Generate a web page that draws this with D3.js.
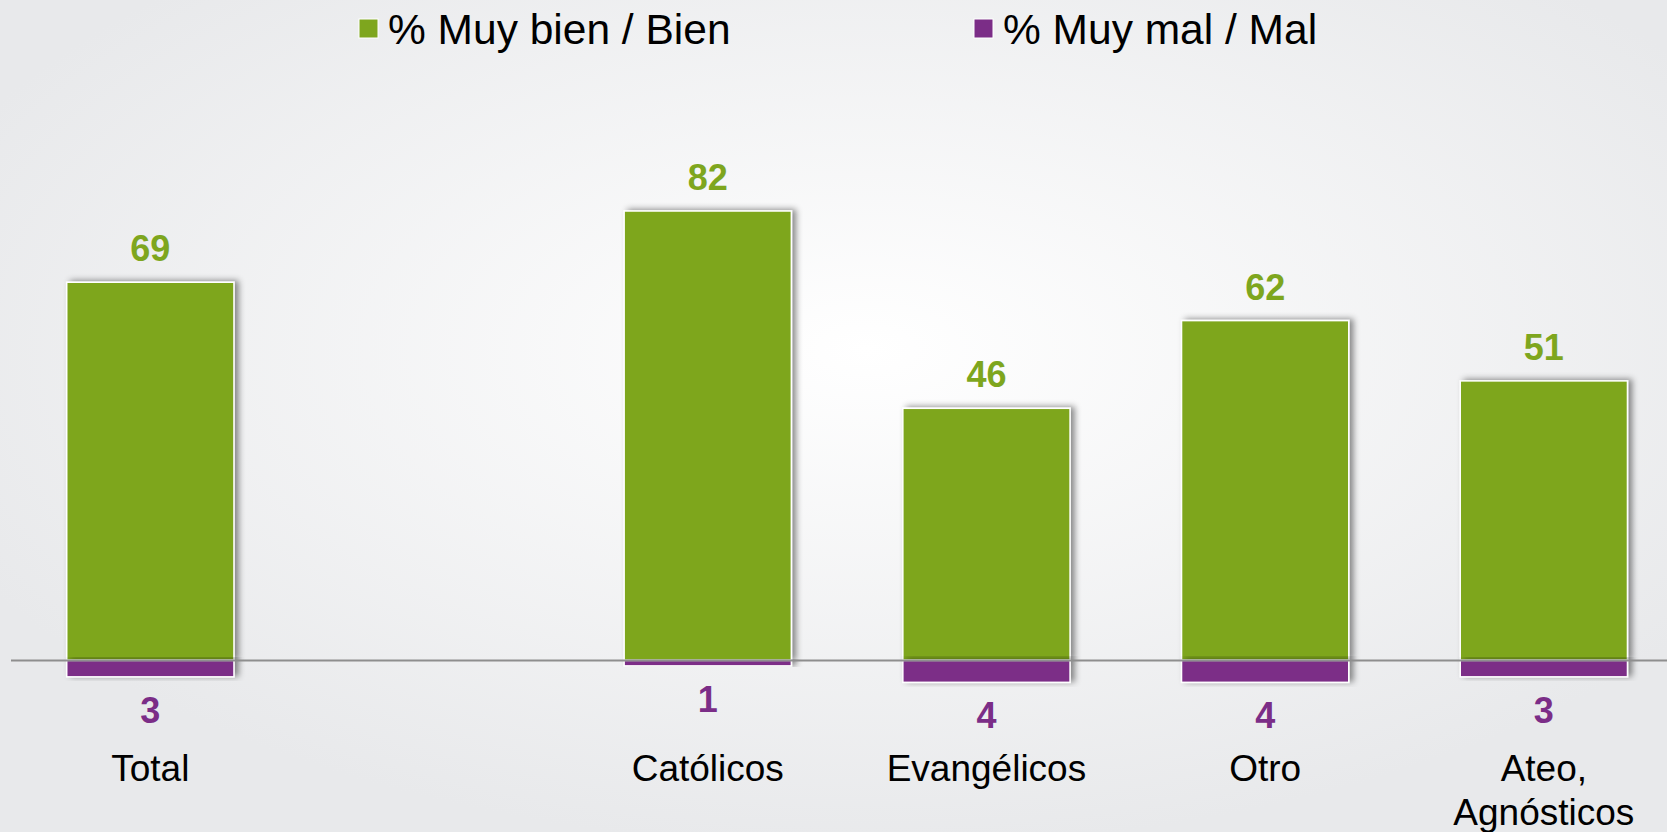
<!DOCTYPE html>
<html>
<head>
<meta charset="utf-8">
<script src="https://cdn.jsdelivr.net/npm/d3@7"></script>
<style>
  html, body { margin: 0; padding: 0; overflow: hidden; }
  body { width: 1667px; height: 832px; }
  svg { display: block; font-family: Arial, "Liberation Sans", sans-serif; }
</style>
</head>
<body>
<svg class="chart"></svg>
<script>
// categories ("" is the empty slot between Total and Católicos)
const categories = ["Total", "", "Católicos", "Evangélicos", "Otro", "Ateo, Agnósticos"];
const catLines = [["Total"], [], ["Católicos"], ["Evangélicos"], ["Otro"], ["Ateo,", "Agnósticos"]];
const good = [69, null, 82, 46, 62, 51];   // % Muy bien / Bien
const bad = [3, null, 1, 4, 4, 3];         // % Muy mal / Mal
const seriesNames = ["% Muy bien / Bien", "% Muy mal / Mal"];
const colors = ["#7ea61e", "#7b2d87"];

const W = 1667, H = 832;
const svg = d3.select(".chart").attr("width", W).attr("height", H);

// background gradient
const defs = svg.append("defs");
const bg = defs.append("radialGradient").attr("id", "bg")
  .attr("cx", "52%").attr("cy", "42%").attr("r", "60%");
bg.append("stop").attr("offset", "0%").attr("stop-color", "#ffffff");
bg.append("stop").attr("offset", "100%").attr("stop-color", "#e8e9eb");
svg.append("rect").attr("width", W).attr("height", H).attr("fill", "url(#bg)");

const shadow = defs.append("filter").attr("id", "shadow")
  .attr("x", "-20%").attr("y", "-20%").attr("width", "140%").attr("height", "140%");
shadow.append("feDropShadow").attr("dx", 4).attr("dy", -1)
  .attr("stdDeviation", 3).attr("flood-color", "#000").attr("flood-opacity", 0.45);

const rows = categories.map((c, i) => ({ i: i, cat: c, good: good[i], bad: bad[i] }))
  .filter(d => d.good != null);

const x = d3.scaleBand()
  .domain(d3.range(categories.length))
  .range([11, 11 + 6 * 278.7])
  .paddingInner(0.4)
  .paddingOuter(0.2);

const y = d3.scaleLinear().domain([0, 82]).range([660.4, 211]);

const g = svg.append("g");

// green bars
g.selectAll(".good").data(rows).enter().append("rect")
  .attr("class", "good")
  .attr("x", d => x(d.i))
  .attr("width", x.bandwidth())
  .attr("y", d => y(d.good))
  .attr("height", d => y(0) - y(d.good))
  .attr("fill", colors[0])
  .attr("stroke", "#fff").attr("stroke-width", 1.5)
  .attr("filter", "url(#shadow)");

// purple bars
g.selectAll(".bad").data(rows).enter().append("rect")
  .attr("class", "bad")
  .attr("x", d => x(d.i))
  .attr("width", x.bandwidth())
  .attr("y", y(0))
  .attr("height", d => y(-d.bad) - y(0))
  .attr("fill", colors[1])
  .attr("stroke", "#fff").attr("stroke-width", 1.5)
  .attr("filter", "url(#shadow)");

// zero line
g.append("line")
  .attr("x1", 11).attr("x2", W)
  .attr("y1", y(0)).attr("y2", y(0))
  .attr("stroke", "#8e8e8e").attr("stroke-width", 2);

// value labels
g.selectAll(".goodLbl").data(rows).enter().append("text")
  .attr("x", d => x(d.i) + x.bandwidth() / 2)
  .attr("y", d => y(d.good) - 21)
  .attr("text-anchor", "middle")
  .attr("font-size", 36).attr("font-weight", "bold")
  .attr("fill", colors[0])
  .text(d => d.good);

g.selectAll(".badLbl").data(rows).enter().append("text")
  .attr("x", d => x(d.i) + x.bandwidth() / 2)
  .attr("y", d => y(-d.bad) + 46)
  .attr("text-anchor", "middle")
  .attr("font-size", 36).attr("font-weight", "bold")
  .attr("fill", colors[1])
  .text(d => d.bad);

// category labels
const cl = g.selectAll(".cat").data(rows).enter().append("text")
  .attr("text-anchor", "middle")
  .attr("font-size", 37)
  .attr("fill", "#000");
cl.selectAll("tspan").data(d => catLines[d.i].map(t => ({ t: t, i: d.i })))
  .enter().append("tspan")
  .attr("x", d => x(d.i) + x.bandwidth() / 2)
  .attr("y", (d, k) => 781 + k * 44)
  .text(d => d.t);

// legend
const legendX = [359, 974];
const leg = svg.selectAll(".leg").data(seriesNames).enter().append("g")
  .attr("transform", (d, i) => "translate(" + legendX[i] + ",0)");
leg.append("rect")
  .attr("x", 0).attr("y", 19).attr("width", 19).attr("height", 19)
  .attr("fill", (d, i) => colors[i])
  .attr("stroke", "#fff").attr("stroke-width", 1);
leg.append("text")
  .attr("x", 29).attr("y", 44)
  .attr("font-size", 42.5)
  .attr("fill", "#000")
  .text(d => d);
</script>
</body>
</html>
